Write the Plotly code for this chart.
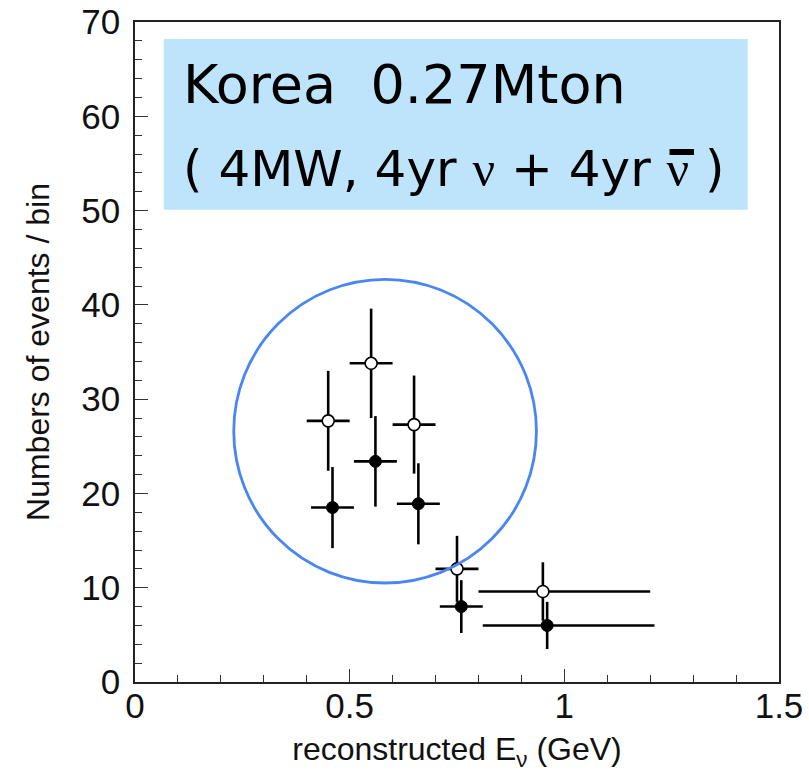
import plotly.graph_objects as go

# Upper series (open markers)
open_e = [0.45, 0.55, 0.65, 0.75, 0.95]
open_n = [27.7, 33.8, 27.3, 12.0, 9.6]
open_err = [5.3, 5.8, 5.2, 3.5, 3.1]

# Lower series (filled markers)
fill_e = [0.46, 0.56, 0.66, 0.76, 0.96]
fill_n = [18.5, 23.4, 18.9, 8.0, 6.0]
fill_err = [4.3, 4.8, 4.3, 2.8, 2.5]

# Horizontal bin extent around each point (low side / high side)
bin_lo = [0.05, 0.05, 0.05, 0.05, 0.15]
bin_hi = [0.05, 0.05, 0.05, 0.05, 0.25]

x_ticks = [0, 0.5, 1, 1.5]
x_tick_text = ["0", "0.5", "1", "1.5"]
y_ticks = [0, 10, 20, 30, 40, 50, 60, 70]

FONT = "Liberation Sans, Arial, sans-serif"
ERR_W = 2.6

fig = go.Figure()

fig.add_trace(go.Scatter(
    x=fill_e, y=fill_n, mode="markers",
    marker=dict(symbol="circle", size=12, color="black",
                line=dict(color="black", width=1)),
    error_y=dict(type="data", array=fill_err, color="black",
                 thickness=ERR_W, width=0),
    error_x=dict(type="data", array=bin_hi, arrayminus=bin_lo,
                 symmetric=False, color="black", thickness=ERR_W, width=0),
    showlegend=False, cliponaxis=False,
))

fig.add_trace(go.Scatter(
    x=open_e, y=open_n, mode="markers",
    marker=dict(symbol="circle", size=12, color="white",
                line=dict(color="black", width=1.6)),
    error_y=dict(type="data", array=open_err, color="black",
                 thickness=ERR_W, width=0),
    error_x=dict(type="data", array=bin_hi, arrayminus=bin_lo,
                 symmetric=False, color="black", thickness=ERR_W, width=0),
    showlegend=False, cliponaxis=False,
))

# Label box behind the title text
fig.add_shape(type="rect", xref="x", yref="y",
              x0=0.067, x1=1.427, y0=50.1, y1=68.2,
              fillcolor="#bee4fb", line=dict(width=0), layer="below")

# Highlight ring around the low-energy peak
fig.add_shape(type="circle", xref="x", yref="y",
              x0=0.23, x1=0.935, y0=10.5, y1=42.7,
              line=dict(color="#4a86f2", width=2.8), layer="above")

fig.add_annotation(
    xref="paper", yref="paper", x=0.072, y=0.905,
    xanchor="left", yanchor="middle", showarrow=False,
    text="Korea  0.27Mton",
    font=dict(family="DejaVu Sans", size=54, color="black"),
)
fig.add_annotation(
    xref="paper", yref="paper", x=0.072, y=0.777,
    xanchor="left", yanchor="middle", showarrow=False,
    text=("( 4MW, 4yr <span style='font-family:Liberation Serif'>ν</span>"
          " + 4yr <span style='font-family:Liberation Serif'>ν</span> )"),
    font=dict(family="DejaVu Sans", size=50, color="black"),
)
# Antineutrino bar over the second ν
fig.add_shape(type="line", xref="paper", yref="paper",
              x0=0.830, x1=0.868, y0=0.803, y1=0.803,
              line=dict(color="black", width=6))

axis_common = dict(
    showline=True, linecolor="#222", linewidth=1.5, mirror=True,
    ticks="inside", ticklen=13, tickwidth=1.3, tickcolor="#333",
    showgrid=False, zeroline=False,
    tickfont=dict(family=FONT, size=35, color="#111"),
)

fig.update_xaxes(
    range=[0, 1.5], tickmode="array", tickvals=x_ticks, ticktext=x_tick_text,
    minor=dict(ticks="inside", ticklen=7, tickwidth=1.2, tickcolor="#333",
               dtick=0.1, tick0=0),
    title=dict(text="reconstructed E<sub>ν</sub> (GeV)",
               font=dict(family=FONT, size=32, color="#111"), standoff=14),
    ticklabelstandoff=-8,
    **axis_common,
)
fig.update_yaxes(
    range=[0, 70], tickmode="array", tickvals=y_ticks,
    minor=dict(ticks="inside", ticklen=7, tickwidth=1.2, tickcolor="#333",
               dtick=2, tick0=0),
    title=dict(text="Numbers of events / bin",
               font=dict(family=FONT, size=32, color="#111"), standoff=22),
    ticklabelstandoff=6,
    **axis_common,
)

fig.update_layout(
    width=809, height=777,
    margin=dict(l=134.5, r=29.5, t=22, b=94.7, autoexpand=False),
    paper_bgcolor="white", plot_bgcolor="white",
)

fig.write_html("out.html")
